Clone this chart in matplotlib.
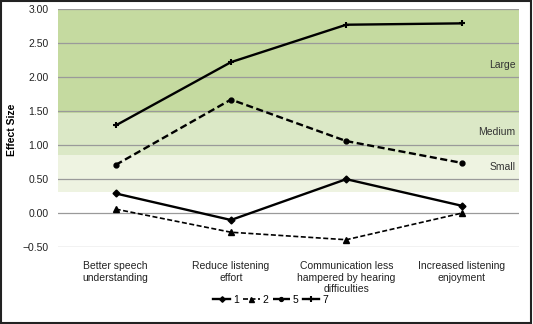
import matplotlib
matplotlib.use("Agg")
import matplotlib.pyplot as plt
from matplotlib.patches import Rectangle

plt.rcParams['font.family'] = ['Liberation Sans', 'DejaVu Sans']

categories = ["Better speech\nunderstanding", "Reduce listening\neffort",
              "Communication less\nhampered by hearing\ndifficulties",
              "Increased listening\nenjoyment"]
s1 = [0.29, -0.10, 0.50, 0.11]
s2 = [0.06, -0.28, -0.39, 0.00]
s5 = [0.71, 1.67, 1.06, 0.74]
s7 = [1.29, 2.22, 2.77, 2.79]

band_edges = [0.31, 0.85, 1.47, 3.00]
band_names = ["Small", "Medium", "Large"]
band_label_y = [0.68, 1.20, 2.18]
band_colors = ["#eef3e1", "#dbe8c6", "#c5daa0"]

fig = plt.figure(figsize=(5.33, 3.24), dpi=100)
ax = fig.add_axes([0.109, 0.237, 0.865, 0.735])

x = list(range(len(categories)))

for i in range(3):
    ax.axhspan(band_edges[i], band_edges[i + 1], color=band_colors[i], zorder=0, lw=0)
    ax.text(len(categories) - 0.53, band_label_y[i], band_names[i], ha='right', va='center',
            fontsize=7.5, color='#333333')

ax.set_ylim(-0.5, 3.0)
ax.set_xlim(-0.5, len(categories) - 0.5)
ax.set_yticks([-0.5, 0, 0.5, 1, 1.5, 2, 2.5, 3])
ax.set_yticklabels(["\u22120.50", "0.00", "0.50", "1.00", "1.50", "2.00", "2.50", "3.00"])
ax.yaxis.grid(True, color='#9a9a9a', lw=0.9, zorder=1)
ax.set_axisbelow(True)
ax.tick_params(axis='y', length=0, labelsize=7.5, pad=7, labelcolor='#222222')
ax.tick_params(axis='x', length=0, labelsize=7.5, pad=10, labelcolor='#222222')
ax.set_xticks(x)
ax.set_xticklabels(categories, va='top')
for sp in ax.spines.values():
    sp.set_visible(False)

ax.plot(x, s1, color='black', lw=1.7, marker='D', ms=3.5, label='1', zorder=3)
ax.plot(x, s2, color='black', lw=1.2, ls=(0, (3, 1.5)), marker='^', ms=4.5, label='2', zorder=3)
ax.plot(x, s5, color='black', lw=1.7, ls=(0, (3, 1.5)), marker='o', ms=3.5, label='5', zorder=3)
ax.plot(x, s7, color='black', lw=1.7, marker='+', ms=5, mew=1.5, label='7', zorder=3)

fig.text(12 / 533, 0.60, "Effect Size", rotation=90, ha='center', va='center',
         fontsize=7.5, fontweight='bold')

fig.legend(loc='center', bbox_to_anchor=(0.508, 0.074), ncol=4, frameon=False,
           fontsize=7.5, handlelength=1.6, handletextpad=0.3, columnspacing=0.4,
           markerscale=0.8)

fig.patches.append(Rectangle((0.002, 0.003), 0.995, 0.994, transform=fig.transFigure,
                             fill=False, edgecolor='#222222', lw=1.5))

fig.savefig("out.png", dpi=100)
